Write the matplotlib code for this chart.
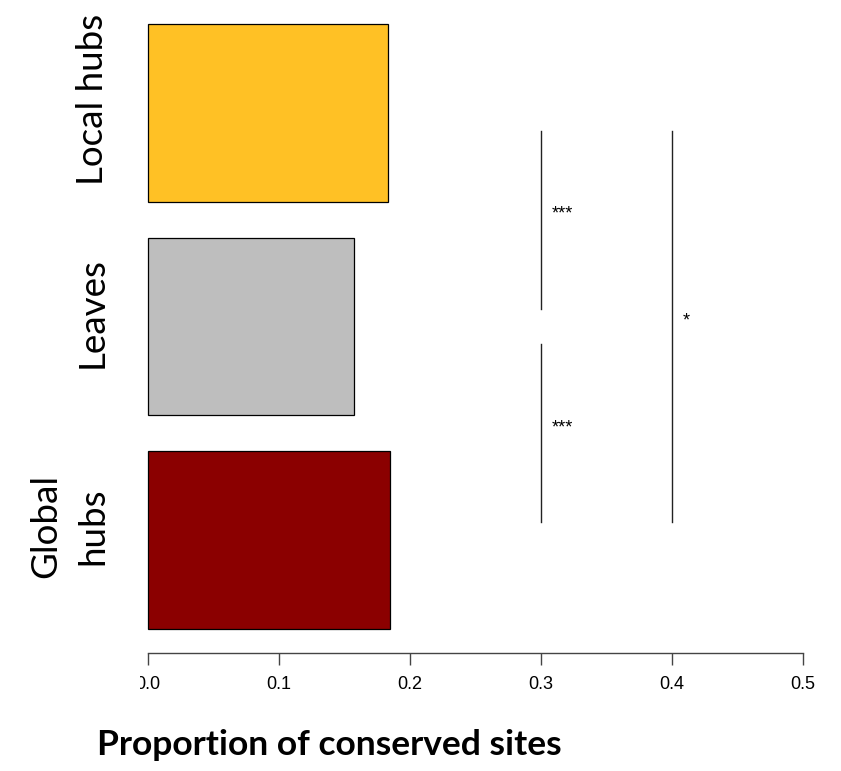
import matplotlib
matplotlib.use("Agg")
import matplotlib.pyplot as plt
from matplotlib.patches import Rectangle
from matplotlib.transforms import ScaledTranslation

# Proportion of conserved sites per node class (bottom to top)
categories = ["Global\nhubs", "Leaves", "Local hubs"]
values = [0.185, 0.157, 0.183]
colors = ["#8B0000", "#BEBEBE", "#FFC125"]

x_ticks = [0.0, 0.1, 0.2, 0.3, 0.4, 0.5]
x_tick_labels = ["0.0", "0.1", "0.2", "0.3", "0.4", "0.5"]

# Pairwise comparisons: (lower bar index, upper bar index, x position, label)
comparisons = [
    (1, 2, 0.3, "***"),
    (0, 1, 0.3, "***"),
    (0, 2, 0.4, "*"),
]

bar_width = 1.0
bar_space = 0.2
centers = [bar_space + bar_width / 2 + i * (bar_width + bar_space)
           for i in range(len(values))]

W, H = 841, 771
fig = plt.figure(figsize=(W / 100, H / 100), dpi=100)
ax = fig.add_axes([148 / W, 1 - 629 / H, 655 / W, 605 / H])

ax.barh(centers, values, height=bar_width, color=colors,
        edgecolor="black", linewidth=0.9, clip_on=False)

ax.set_xlim(0, 0.5)
ax.set_ylim(bar_space, centers[-1] + bar_width / 2)

for spine in ("top", "right", "left"):
    ax.spines[spine].set_visible(False)
ax.spines["bottom"].set_position(("outward", 17))
ax.spines["bottom"].set_bounds(0, 0.5)
ax.spines["bottom"].set_color("#444444")
ax.spines["bottom"].set_linewidth(1.0)

ax.set_xticks(x_ticks)
ax.set_xticklabels(x_tick_labels, fontfamily="Liberation Sans", fontsize=13)
ax.tick_params(axis="x", length=8.5, width=1.0, color="#444444", pad=8)

ax.set_yticks(centers)
ax.set_yticklabels(categories, rotation=90, va="center", ha="right",
                   fontfamily="Lato", fontsize=26.5, multialignment="center",
                   linespacing=1.5)
ax.tick_params(axis="y", length=0, pad=28)
shift = ScaledTranslation(0, 10 / 72, fig.dpi_scale_trans)
for lab in ax.get_yticklabels():
    lab.set_transform(lab.get_transform() + shift)

# Significance brackets
for lo, hi, xpos, label in comparisons:
    y0, y1 = centers[lo] + 0.1, centers[hi] - 0.1
    ax.plot([xpos, xpos], [y0, y1], color="#222222", linewidth=1.0)
    ax.text(xpos + 0.008, (y0 + y1) / 2 + 0.03, label, fontsize=13,
            ha="left", va="center", fontfamily="Liberation Sans")

fig.text(97 / W, 1 - 745 / H, "Proportion of conserved sites",
         fontfamily="Lato", fontweight="bold", fontsize=25.5,
         ha="left", va="center")

# White band along the left margin trimming the first tick label
fig.add_artist(Rectangle((0, 1 - 700 / H), 140 / W, 30 / H,
                         transform=fig.transFigure, facecolor="white",
                         edgecolor="none", zorder=10))

fig.savefig("out.png", dpi=100)
